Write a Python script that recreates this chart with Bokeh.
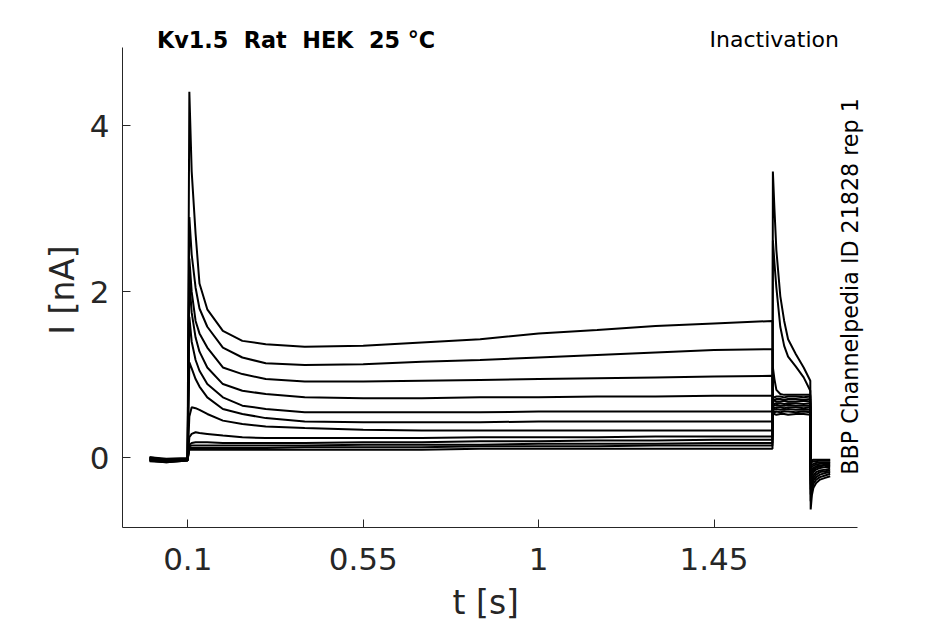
from bokeh.plotting import figure
from bokeh.models import Range1d, FixedTicker, CustomJSTickFormatter, Label
from bokeh.embed import file_html
from bokeh.resources import INLINE

# ---- time grids (s) ----
T_BASE = [0.002, 0.045, 0.0995]
T_PRE = [0.104, 0.11, 0.12, 0.13, 0.15, 0.19, 0.24, 0.3, 0.4, 0.55, 0.7, 0.85, 1.0, 1.15, 1.3, 1.45, 1.6]
T_TEST = [1.601, 1.605, 1.61, 1.62, 1.63, 1.64, 1.66, 1.68, 1.697]
T_TAIL = [1.698, 1.701, 1.705, 1.712, 1.722, 1.735, 1.748]

# ---- currents (nA), one row per sweep ----
BASELINE = [
    [-0.01, -0.03, -0.02], [0.00, -0.02, -0.01], [-0.02, -0.04, -0.02], [-0.03, -0.05, -0.03],
    [0.01, -0.01, 0.00], [-0.02, -0.03, -0.01], [-0.04, -0.05, -0.03], [0.00, -0.02, -0.02],
    [-0.01, -0.04, -0.02], [-0.03, -0.04, -0.03], [0.01, -0.02, -0.01], [-0.02, -0.03, -0.02],
]
PREPULSE = [
    [4.41, 3.45, 2.70, 2.10, 1.79, 1.53, 1.41, 1.37, 1.34, 1.35, 1.39, 1.43, 1.50, 1.54, 1.59, 1.62, 1.65],
    [2.90, 2.45, 2.05, 1.80, 1.58, 1.33, 1.21, 1.14, 1.12, 1.13, 1.16, 1.18, 1.21, 1.24, 1.27, 1.30, 1.31],
    [2.40, 2.00, 1.65, 1.50, 1.33, 1.09, 1.01, 0.95, 0.92, 0.92, 0.93, 0.94, 0.95, 0.96, 0.97, 0.98, 0.99],
    [2.15, 1.75, 1.45, 1.28, 1.09, 0.89, 0.81, 0.77, 0.73, 0.72, 0.72, 0.73, 0.73, 0.74, 0.74, 0.75, 0.75],
    [1.70, 1.40, 1.18, 1.05, 0.89, 0.73, 0.63, 0.59, 0.55, 0.55, 0.55, 0.55, 0.56, 0.56, 0.56, 0.56, 0.56],
    [1.15, 1.08, 0.95, 0.86, 0.73, 0.59, 0.53, 0.48, 0.44, 0.43, 0.43, 0.43, 0.44, 0.44, 0.44, 0.44, 0.44],
    [0.50, 0.61, 0.60, 0.58, 0.53, 0.45, 0.41, 0.38, 0.36, 0.34, 0.33, 0.33, 0.33, 0.33, 0.33, 0.33, 0.33],
    [0.25, 0.29, 0.31, 0.30, 0.29, 0.27, 0.25, 0.24, 0.24, 0.24, 0.24, 0.25, 0.25, 0.25, 0.26, 0.26, 0.26],
    [0.16, 0.18, 0.19, 0.19, 0.19, 0.18, 0.18, 0.18, 0.18, 0.19, 0.19, 0.20, 0.20, 0.21, 0.21, 0.22, 0.22],
    [0.14, 0.15, 0.15, 0.15, 0.15, 0.15, 0.15, 0.15, 0.15, 0.16, 0.16, 0.16, 0.17, 0.17, 0.17, 0.18, 0.18],
    [0.12, 0.12, 0.12, 0.12, 0.12, 0.12, 0.12, 0.12, 0.13, 0.13, 0.13, 0.14, 0.14, 0.14, 0.15, 0.15, 0.15],
    [0.10, 0.10, 0.10, 0.10, 0.10, 0.10, 0.10, 0.10, 0.10, 0.10, 0.10, 0.11, 0.11, 0.11, 0.11, 0.11, 0.11],
]
TESTPULSE = [
    [0.53, 0.53, 0.52, 0.53, 0.53, 0.52, 0.53, 0.53, 0.52],
    [0.56, 0.55, 0.56, 0.55, 0.56, 0.56, 0.55, 0.56, 0.55],
    [0.58, 0.58, 0.59, 0.58, 0.58, 0.59, 0.58, 0.58, 0.58],
    [0.61, 0.60, 0.61, 0.61, 0.60, 0.61, 0.61, 0.60, 0.61],
    [0.63, 0.63, 0.64, 0.63, 0.63, 0.64, 0.63, 0.63, 0.63],
    [0.66, 0.65, 0.66, 0.66, 0.65, 0.66, 0.66, 0.65, 0.66],
    [0.68, 0.69, 0.68, 0.68, 0.69, 0.68, 0.68, 0.69, 0.68],
    [0.71, 0.70, 0.71, 0.71, 0.70, 0.71, 0.71, 0.70, 0.71],
    [0.74, 0.73, 0.74, 0.74, 0.73, 0.74, 0.74, 0.73, 0.74],
    [1.09, 0.95, 0.82, 0.77, 0.76, 0.76, 0.76, 0.76, 0.76],
    [2.62, 2.35, 2.05, 1.58, 1.35, 1.22, 1.10, 0.97, 0.81],
    [3.45, 3.00, 2.50, 1.95, 1.65, 1.43, 1.25, 1.09, 0.93],
]
TAIL = [
    [-0.03, -0.03, -0.02, -0.02, -0.02, -0.02, -0.02],
    [-0.06, -0.05, -0.04, -0.04, -0.03, -0.03, -0.03],
    [-0.10, -0.08, -0.07, -0.06, -0.05, -0.05, -0.05],
    [-0.14, -0.11, -0.09, -0.08, -0.07, -0.06, -0.06],
    [-0.18, -0.14, -0.12, -0.10, -0.09, -0.08, -0.08],
    [-0.22, -0.17, -0.14, -0.12, -0.10, -0.09, -0.09],
    [-0.27, -0.21, -0.17, -0.14, -0.12, -0.11, -0.11],
    [-0.32, -0.25, -0.21, -0.17, -0.15, -0.14, -0.13],
    [-0.38, -0.29, -0.24, -0.20, -0.17, -0.16, -0.15],
    [-0.44, -0.33, -0.27, -0.23, -0.20, -0.18, -0.17],
    [-0.52, -0.38, -0.31, -0.26, -0.23, -0.21, -0.19],
    [-0.62, -0.45, -0.36, -0.30, -0.26, -0.24, -0.22],
]

X_TICKS = [0.1, 0.55, 1, 1.45]
Y_TICKS = [0, 2, 4]
X_AXIS_SPAN = (-0.0675, 1.818)
Y_AXIS_SPAN = (-0.837, 4.943)
NB = "\u00a0"
TITLE = "Kv1.5 " + NB + "Rat " + NB + "HEK " + NB + "25 °C"
PROTOCOL = "Inactivation"
SOURCE = "BBP Channelpedia ID 21828 rep 1"
X_LABEL = "t [s]"
Y_LABEL = "I [nA]"

xs, ys = [], []
for b, pre, tst, tl in zip(BASELINE, PREPULSE, TESTPULSE, TAIL):
    xs.append(T_BASE + T_PRE + T_TEST + T_TAIL)
    ys.append(b + pre + tst + tl)

FONT = "DejaVu Sans"
GRAY = "#262626"

# frame is extended up/right so the annotations are not clipped;
# axis lines are limited to the real plotting box with `bounds`
p = figure(width=945, height=624, output_backend="svg", toolbar_location=None,
           x_range=Range1d(-0.0675, 1.8771), y_range=Range1d(-0.837, 5.388),
           min_border_left=122, min_border_right=65, min_border_top=10, min_border_bottom=97)
p.outline_line_color = None
p.grid.visible = False
p.background_fill_color = "white"
p.border_fill_color = "white"

p.multi_line(xs, ys, line_color="black", line_width=2)

fmt = CustomJSTickFormatter(code="return String(Math.round(tick*100)/100);")
for ax, ticks, span in ((p.xaxis[0], X_TICKS, X_AXIS_SPAN), (p.yaxis[0], Y_TICKS, Y_AXIS_SPAN)):
    ax.ticker = FixedTicker(ticks=ticks)
    ax.formatter = fmt
    ax.bounds = span
    ax.minor_tick_line_color = None
    ax.major_tick_in = 8
    ax.major_tick_out = 0
    ax.axis_line_color = GRAY
    ax.major_tick_line_color = GRAY
    ax.major_label_text_font = FONT
    ax.major_label_text_font_size = "31px"
    ax.major_label_text_color = GRAY
    ax.axis_label_text_font = FONT
    ax.axis_label_text_font_size = "33px"
    ax.axis_label_text_font_style = "normal"
    ax.axis_label_text_color = GRAY

# trailing no-break spaces re-centre the labels on the drawn axis span
p.xaxis.axis_label = X_LABEL + NB * 3
p.yaxis.axis_label = Y_LABEL + NB * 4
p.xaxis.major_label_standoff = 20
p.xaxis.axis_label_standoff = 10
p.yaxis.major_label_standoff = 13
p.yaxis.axis_label_standoff = 5

p.add_layout(Label(x=0.021, y=5.027, text=TITLE, text_font=FONT, text_font_size="22.3px",
                   text_font_style="bold", text_color="black", text_baseline="middle"))
p.add_layout(Label(x=1.7706, y=5.04, text=PROTOCOL, text_font=FONT, text_font_size="22px",
                   text_color="black", text_baseline="middle", text_align="right"))
p.add_layout(Label(x=1.80, y=2.065, text=SOURCE, text_font=FONT, text_font_size="22.2px",
                   text_color="black", text_baseline="middle", text_align="center",
                   angle=90, angle_units="deg"))

open("out.html", "w").write(file_html(p, INLINE))
